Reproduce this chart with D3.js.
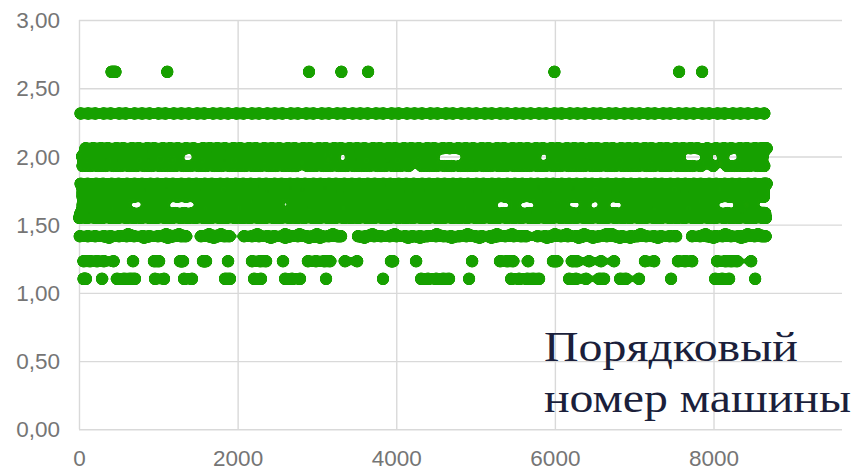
<!DOCTYPE html>
<html lang="en">
<head>
    <meta charset="UTF-8">
    <title>Порядковый номер машины</title>
    <script src="https://cdn.jsdelivr.net/npm/d3@7/dist/d3.min.js"></script>
    <style>
        body{ margin: 0; background: #ffffff; }
        .axis text{ font-family: "Liberation Sans", Arial, sans-serif; font-size: 22.5px; fill: #757575; }
        .axis line{ stroke: #d9d9d9; stroke-width: 1.4px; }
    </style>
</head>
<body>
<div id="container"></div>
<script>

    const xTicks = [0, 2000, 4000, 6000, 8000];
    const yTicks = [0, 0.5, 1, 1.5, 2, 2.5, 3];
    const labelLines = ["Порядковый", "номер машины"];

    // one list of machine numbers per value level
    const row262 = [410,460,1113,2900,3308,3645,5994,7566,7856];
    const row232 = [20,115,205,310,400,505,590,700,795,890,1000,1090,1195,1290,1385,1490,1580,1690,1785,1880,1985,2075,2180,2270,2375,2470,2565,2670,2760,2865,2955,3060,3150,3255,3345,3450,3545,3640,3745,3835,3940,4030,4135,4230,4325,4430,4520,4625,4715,4820,4915,5010,5115,5205,5310,5400,5505,5600,5695,5800,5890,5995,6085,6190,6285,6380,6485,6575,6680,6770,6875,6970,7065,7170,7260,7365,7455,7560,7655,7750,7855,7945,8050,8140,8245,8340,8435,8540,8640];
    const row206 = [82,180,275,365,470,560,665,755,860,950,1055,1150,1245,1350,1445,1560,1650,1745,1840,1945,2035,2140,2230,2335,2430,2525,2630,2720,2825,2915,3020,3110,3215,3305,3410,3505,3600,3705,3795,3900,3990,4095,4190,4285,4390,4480,4585,4675,4780,4875,4970,5075,5165,5270,5360,5465,5560,5655,5760,5850,5955,6045,6150,6245,6340,6445,6535,6640,6730,6835,6930,7025,7130,7220,7325,7415,7520,7615,7710,7800,7920,8030,8130,8225,8330,8420,8520,8610,8670];
    const row200 = [40,170,300,430,560,690,820,950,1100,1250,1500,1630,1760,1890,2020,2150,2280,2410,2540,2670,2800,2930,3060,3220,3430,3560,3690,3820,3950,4080,4210,4340,4470,4890,5020,5150,5280,5410,5540,5650,5750,5970,6100,6230,6360,6490,6620,6750,6880,7010,7140,7270,7400,7490,7570,7910,8120,8370,8500,8620];
    const row193 = [45,140,240,330,435,525,630,720,825,915,1020,1115,1210,1315,1405,1510,1600,1705,1795,1900,1995,2090,2195,2285,2390,2480,2585,2680,2740,2880,2975,3080,3170,3275,3365,3470,3565,3660,3765,3855,3960,4050,4155,4320,4415,4505,4610,4700,4805,4900,4995,5100,5190,5295,5385,5490,5585,5680,5785,5875,5980,6070,6175,6270,6365,6470,6560,6665,6755,6860,6955,7050,7155,7245,7350,7440,7545,7640,7735,7840,7995,8170,8265,8360,8450,8555,8640];
    const row180 = [20,110,215,305,410,500,605,700,795,900,990,1095,1185,1290,1385,1480,1585,1675,1780,1870,1975,2070,2165,2270,2360,2465,2555,2660,2755,2850,2955,3045,3150,3240,3345,3440,3535,3640,3730,3835,3925,4030,4125,4220,4325,4415,4520,4610,4715,4810,4905,5010,5100,5205,5295,5400,5495,5590,5695,5785,5890,5980,6085,6180,6275,6380,6470,6575,6665,6770,6865,6960,7065,7155,7260,7350,7455,7550,7645,7750,7840,7945,8035,8140,8235,8330,8435,8525,8630,8670];
    const row174 = [45,190,330,470,615,755,900,1040,1185,1325,1465,1610,1750,1895,2035,2180,2320,2460,2605,2745,2890,3030,3175,3315,3455,3600,3740,3885,4025,4170,4310,4450,4595,4735,4880,5020,5165,5305,5445,5590,5730,5875,6015,6160,6300,6440,6585,6725,6870,7010,7155,7295,7435,7580,7720,7865,8005,8150,8290,8430,8575,8630];
    const row170 = [45,155,260,370,480,590,695,805,915,1025,1130,1240,1350,1460,1565,1675,1785,1895,2000,2110,2220,2330,2435,2545,2655,2765,2870,2980,3090,3200,3305,3415,3525,3635,3740,3850,3960,4070,4175,4285,4395,4505,4610,4720,4830,4940,5045,5155,5265,5375,5480,5590,5700,5810,5915,6025,6135,6245,6350,6460,6570,6680,6785,6895,7005,7115,7220,7330,7440,7550,7655,7765,7875,7985,8090,8200,8310,8420,8525,8635];
    const row164 = [45,185,325,465,580,860,1000,1070,1530,1670,1810,1950,2090,2230,2370,2510,2700,2840,2980,3120,3260,3400,3540,3680,3820,3960,4100,4240,4380,4520,4660,4800,4940,5080,5200,5490,5810,5950,6110,6380,6620,6910,7050,7190,7330,7470,7610,7750,7890,7990,8330,8500];
    const row159 = [20,130,235,345,455,565,670,780,890,1000,1105,1215,1325,1435,1540,1650,1760,1870,1975,2085,2195,2305,2410,2520,2630,2740,2845,2955,3065,3175,3280,3390,3500,3610,3715,3825,3935,4045,4150,4260,4370,4480,4585,4695,4805,4915,5020,5130,5240,5350,5455,5565,5675,5785,5890,6000,6110,6220,6325,6435,6545,6655,6760,6870,6980,7090,7195,7305,7415,7525,7630,7740,7850,7960,8065,8175,8285,8395,8500,8610,8650];
    const row155 = [3,100,205,295,400,490,595,690,785,890,980,1085,1175,1280,1375,1470,1575,1665,1770,1860,1965,2060,2155,2260,2350,2455,2545,2650,2745,2840,2945,3035,3140,3230,3335,3430,3525,3630,3720,3825,3915,4020,4115,4210,4315,4405,4510,4600,4705,4800,4895,5000,5090,5195,5285,5390,5485,5580,5685,5775,5880,5970,6075,6170,6265,6370,6460,6565,6655,6760,6855,6950,7055,7145,7250,7340,7445,7540,7635,7740,7830,7935,8025,8130,8225,8320,8425,8515,8620,8660];
    const row143 = [620,1100,1260,1640,1790,2250,2600,2780,3000,3200,3700,3980,4510,4900,5270,5460,6000,6150,6370,6650,6720,7080,7900,8150,8430,8560];
    const row142 = [10,110,205,310,400,505,600,695,800,890,995,1085,1190,1285,1349,1538,1635,1740,1830,1898,2081,2180,2270,2375,2465,2570,2665,2760,2865,2955,3060,3150,3255,3304,3518,3615,3720,3810,3915,4005,4110,4205,4300,4395,4500,4595,4690,4795,4885,4990,5080,5185,5280,5375,5480,5570,5640,5780,5875,5970,6075,6165,6270,6360,6465,6560,6655,6760,6850,6955,7045,7150,7245,7340,7445,7528,7730,7830,7920,8025,8115,8220,8315,8410,8515,8605,8657];
    const row140 = [380,820,1120,1700,2420,2600,2900,3040,3600,4150,4300,4700,5050,5200,5900,6300,6480,6820,6950,7300,8000,8350];
    const row123 = [57,139,227,315,435,681,946,1009,1274,1311,1564,1601,1879,2182,2282,2358,2572,2887,2988,3090,3165,3354,3506,3934,3960,4250,4956,5309,5397,5473,5662,5977,6027,6217,6280,6431,6582,6746,7137,7251,7553,7642,7730,8046,8147,8222,8298,8474];
    const row110 = [57,88,290,479,567,643,706,958,1072,1324,1425,1841,1904,2207,2295,2598,2686,2787,3115,3833,4313,4401,4502,4590,4666,4918,5448,5548,5649,5725,5801,6179,6267,6393,6557,6620,6822,6897,7061,7465,8020,8109,8197,8525];

    const levels = [2.62, 2.315, 2.06, 2.0, 1.93, 1.8, 1.74, 1.705, 1.645, 1.585, 1.55, 1.43, 1.415, 1.405, 1.232, 1.103];
    const rows = [row262, row232, row206, row200, row193, row180, row174, row170, row164, row159, row155, row143, row142, row140, row123, row110];

    let width = 857;
    let height = 468;
    let plotLeft = 79, plotRight = 842, plotTop = 20, plotBottom = 429.3;

    let svg = d3.select("#container")
        .append('svg')
        .attr("width", width)
        .attr("height", height)
        .style('display', 'block')
        .style('background-color', '#ffffff');

    // the reference is a soft photo of the chart, overlapping dots melt together
    let melt = svg.append("defs").append("filter")
        .attr("id", "melt")
        .attr("filterUnits", "userSpaceOnUse")
        .attr("x", 0).attr("y", 0)
        .attr("width", width).attr("height", height);
    melt.append("feGaussianBlur")
        .attr("in", "SourceGraphic")
        .attr("stdDeviation", 1.7);
    melt.append("feColorMatrix")
        .attr("type", "matrix")
        .attr("values", "1 0 0 0 0  0 1 0 0 0  0 0 1 0 0  0 0 0 7 -3");

    let x = d3.scaleLinear().domain([0, 9620]).range([plotLeft, plotRight]);
    let y = d3.scaleLinear().domain([0, 3]).range([plotBottom, plotTop]);

    let xAxis = d3.axisBottom(x)
        .tickValues(xTicks)
        .tickFormat(d3.format("d"))
        .tickSize(plotTop - plotBottom)
        .tickPadding(0);
    let xg = svg.append("g")
        .attr("class", "axis")
        .attr("transform", "translate(0," + plotBottom + ")")
        .call(xAxis);
    xg.select(".domain").remove();
    xg.selectAll("text").attr("y", 37).attr("dy", 0);

    let yAxis = d3.axisLeft(y)
        .tickValues(yTicks)
        .tickFormat(d => d3.format(".2f")(d).replace(".", ","))
        .tickSize(plotLeft - plotRight)
        .tickPadding(0);
    let yg = svg.append("g")
        .attr("class", "axis")
        .attr("transform", "translate(" + plotLeft + ",0)")
        .call(yAxis);
    yg.select(".domain").remove();
    yg.selectAll("text").attr("x", -19).attr("dy", "0.34em");

    // dots go on top of the grid
    let dots = svg.append("g").attr("filter", "url(#melt)");
    rows.forEach(function(row, i) {
        dots.append("g")
            .selectAll("circle")
            .data(row)
            .join("circle")
            .attr("cx", d => x(d))
            .attr("cy", y(levels[i]))
            .attr("r", 6.5)
            .attr("fill", "#19a000");
    });

    svg.append("g")
        .selectAll("text")
        .data(labelLines)
        .join("text")
        .attr("x", 544)
        .attr("y", (d, i) => 361 + i * 51)
        .attr("textLength", (d, i) => i === 0 ? 254 : 307)
        .attr("lengthAdjust", "spacingAndGlyphs")
        .style("font-family", "'Liberation Serif', serif")
        .style("font-size", "42px")
        .style("fill", "#1b1f3b")
        .text(d => d);

</script>
</body>
</html>
